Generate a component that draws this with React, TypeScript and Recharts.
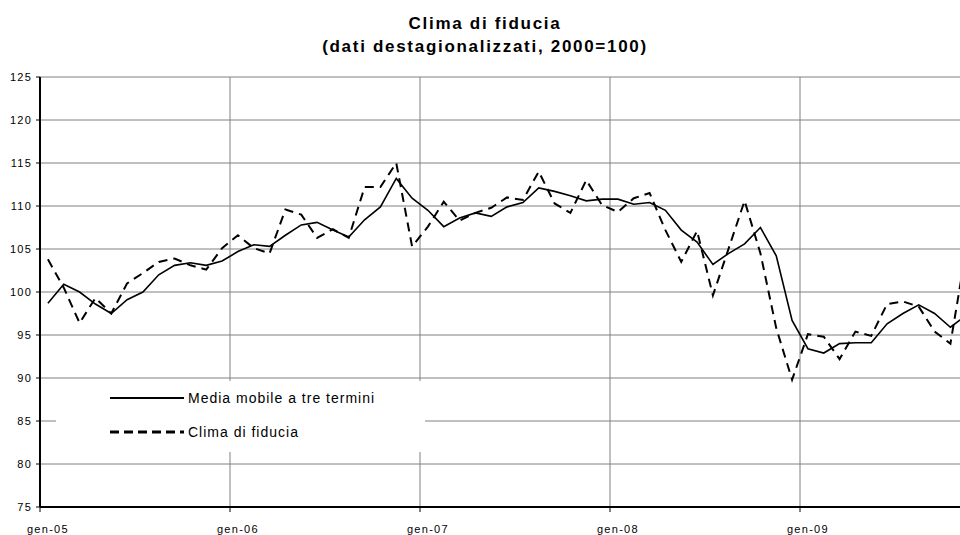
import React from 'react';
import { LineChart, Line, XAxis, YAxis, CartesianGrid } from 'recharts';

// categorie: mesi da gen-05 a ott-09
const MESI = ['gen', 'feb', 'mar', 'apr', 'mag', 'giu', 'lug', 'ago', 'set', 'ott', 'nov', 'dic'];
const ANNI = ['05', '06', '07', '08', '09'];
const categorie = ANNI.flatMap((a) => MESI.map((m) => `${m}-${a}`));

// Media mobile a tre termini
const mediaMobile = [
  98.7, 100.9, 100.0, 98.6, 97.5, 99.1, 100.0, 102.0, 103.1, 103.4, 103.1, 103.6,
  104.7, 105.5, 105.3, 106.6, 107.8, 108.1, 107.2, 106.4, 108.4, 109.9, 113.2, 110.9,
  109.5, 107.6, 108.6, 109.2, 108.8, 109.9, 110.4, 112.1, 111.7, 111.2, 110.6, 110.8,
  110.8, 110.2, 110.4, 109.5, 107.2, 105.8, 103.2, 104.5, 105.6, 107.5, 104.2, 96.7,
  93.4, 92.9, 94.0, 94.1, 94.1, 96.3, 97.5, 98.5, 97.5, 95.9, 97.3,
];

// Clima di fiducia
const climaFiducia = [
  103.8, 100.5, 96.4, 99.3, 97.5, 101.0, 102.2, 103.5, 103.9, 103.1, 102.6, 105.1,
  106.6, 105.1, 104.5, 109.6, 109.0, 106.3, 107.3, 106.3, 112.2, 112.2, 115.0, 105.3,
  107.6, 110.5, 108.3, 109.2, 109.8, 111.0, 110.7, 114.0, 110.3, 109.2, 113.0, 110.1,
  109.3, 110.9, 111.5, 107.2, 103.5, 107.1, 99.6, 105.1, 110.6, 104.5, 95.8, 89.8,
  95.1, 94.8, 92.2, 95.4, 94.9, 98.6, 98.9, 98.3, 95.4, 94.0, 105.0,
];

const yTicks = [75, 80, 85, 90, 95, 100, 105, 110, 115, 120, 125];
const yearTicks = [0, 12, 24, 36, 48];
const yearLabels = ['gen-05', 'gen-06', 'gen-07', 'gen-08', 'gen-09'];

const data = mediaMobile.map((v, i) => ({
  mese: categorie[i],
  pos: i + 0.5,
  media: v,
  clima: climaFiducia[i],
}));

const FONT = '"Liberation Sans", Arial, sans-serif';
const CHART_W = 1000;
const CHART_H = 535;
const Y_AXIS_W = 40;
const MARGIN_R = 10;
const HALF_MONTH = (CHART_W - Y_AXIS_W - MARGIN_R) / 60 / 2;

// etichette centrate sul primo mese dell'anno, come in Excel
const YearTick = ({ x, y, payload }: any) => (
  <text
    x={x + HALF_MONTH}
    y={y + 19}
    textAnchor="middle"
    fill="#000"
    fontSize={11}
    fontFamily={FONT}
    letterSpacing={1.3}
  >
    {yearLabels[yearTicks.indexOf(payload.value)]}
  </text>
);

const LegendRow = ({ dashed, label }: { dashed?: boolean; label: string }) => (
  <div style={{ display: 'flex', alignItems: 'center', height: 34 }}>
    <svg width={132} height={10} style={{ display: 'block' }}>
      <line
        x1={54}
        x2={128}
        y1={5}
        y2={5}
        stroke="#000"
        strokeWidth={dashed ? 3 : 2}
        strokeDasharray={dashed ? '9 5' : undefined}
      />
    </svg>
    <span style={{ fontSize: 14, letterSpacing: 1, color: '#000' }}>{label}</span>
  </div>
);

export default function App() {
  return (
    <div
      style={{
        position: 'fixed',
        left: 0,
        top: 0,
        width: 960,
        height: 535,
        overflow: 'hidden',
        background: '#fff',
        fontFamily: FONT,
      }}
    >
      <LineChart
        width={CHART_W}
        height={CHART_H}
        data={data}
        margin={{ top: 77, right: MARGIN_R, bottom: 0, left: 0 }}
      >
        <CartesianGrid stroke="#808080" strokeWidth={1} />
        <XAxis
          type="number"
          dataKey="pos"
          domain={[0, 60]}
          ticks={yearTicks}
          interval={0}
          height={28}
          tickSize={5}
          tickMargin={2}
          tickLine={{ stroke: '#000' }}
          axisLine={{ stroke: '#000', strokeWidth: 2 }}
          tick={<YearTick />}
          allowDataOverflow
        />
        <YAxis
          type="number"
          domain={[75, 125]}
          ticks={yTicks}
          interval={0}
          width={Y_AXIS_W}
          tickSize={4}
          tickMargin={4}
          tickLine={{ stroke: '#000' }}
          axisLine={{ stroke: '#000', strokeWidth: 2 }}
          tick={{ fill: '#000', fontSize: 11, fontFamily: FONT, letterSpacing: 1.2 }}
        />
        <Line
          type="linear"
          dataKey="media"
          name="Media mobile a tre termini"
          stroke="#000"
          strokeWidth={1.6}
          dot={false}
          isAnimationActive={false}
        />
        <Line
          type="linear"
          dataKey="clima"
          name="Clima di fiducia"
          stroke="#000"
          strokeWidth={2}
          strokeDasharray="9 6"
          dot={false}
          isAnimationActive={false}
        />
      </LineChart>

      {/* titolo */}
      <div
        style={{
          position: 'absolute',
          left: 0,
          top: 12,
          width: 970,
          textAlign: 'center',
          fontWeight: 'bold',
          fontSize: 17,
          lineHeight: '23px',
          letterSpacing: 1.7,
          color: '#000',
        }}
      >
        Clima di fiducia
        <br />
        (dati destagionalizzati, 2000=100)
      </div>

      {/* legenda */}
      <div
        style={{
          position: 'absolute',
          left: 56,
          top: 381,
          width: 369,
          height: 71,
          background: '#fff',
        }}
      >
        <LegendRow label="Media mobile a tre termini" />
        <LegendRow dashed label="Clima di fiducia" />
      </div>
    </div>
  );
}
